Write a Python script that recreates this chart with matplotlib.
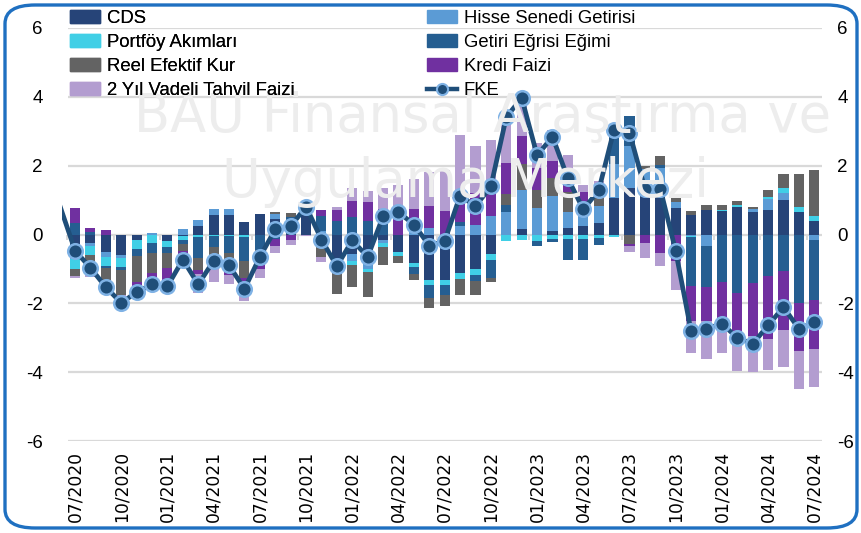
import numpy as np
import matplotlib
matplotlib.use("Agg")
import matplotlib.pyplot as plt
from matplotlib.patches import Patch, FancyBboxPatch
from matplotlib.lines import Line2D

plt.rcParams["axes.unicode_minus"] = False
font_txt = "Liberation Sans"

# 07/2020 ... 07/2024, monthly
tick_labels = ["07/2020", "10/2020", "01/2021", "04/2021", "07/2021", "10/2021",
               "01/2022", "04/2022", "07/2022", "10/2022", "01/2023", "04/2023",
               "07/2023", "10/2023", "01/2024", "04/2024", "07/2024"]

cds = [-0.3, -0.24, -0.5, -0.61, -0.15, 0, -0.2, -0.05, 0.24, 0.57, 0.58, 0.36, 0.6,
       0.45, 0.2, 0.6, 0, -0.88, -0.58, -0.6, -0.15, -0.5, -0.82, -1.32, -1.31, -1.13,
       -1.0, -0.58, 0, 0.17, 0, 0.1, 0.19, 0.24, 0.32, 1.07, 1.36, 1.2, 1.33, 0.78,
       0.58, 0.7, 0.68, 0.81, 0.65, 0.71, 1.0, 0.65, 0.39]
hisse = [-0.4, -0.1, -0.15, -0.08, 0, 0.05, 0, 0.17, 0.17, 0.18, 0.15, 0, 0, 0.15, 0,
         0.2, 0.1, 0, -0.2, -0.4, -0.1, 0, 0.2, 0.2, 0, 0.24, 0.29, 0.53, 0.66, 1.12,
         0.78, 1.02, 0.46, 0.58, 0.5, 0.97, 1.21, 0.7, 0.61, 0.17, -0.03, -0.34, 0, 0,
         0.08, 0.33, 0.21, 0, -0.17]
portfoy = [-0.3, -0.27, -0.27, -0.25, -0.27, -0.26, -0.17, -0.1, -0.08, -0.05, -0.03,
           -0.07, 0, 0, 0, 0, 0, 0, -0.1, -0.1, -0.1, -0.12, -0.12, -0.15, -0.15, -0.16,
           -0.17, -0.17, -0.19, -0.15, -0.19, -0.13, -0.13, -0.13, -0.1, -0.07, 0, 0, 0,
           0, -0.03, 0, 0.03, 0.05, 0, 0.06, 0.15, 0.16, 0.15]
getiri = [0.34, 0.07, -0.05, -0.08, -0.21, -0.27, -0.17, -0.12, -0.6, -0.3, -0.5, -0.7,
          -0.44, -0.12, 0.3, 0, 0.45, 0.4, 0.5, 0.4, 0.5, 0, -0.2, -0.37, -0.29, 0.12,
          -0.19, -0.51, 0.21, 0, -0.15, -0.1, -0.6, -0.6, -0.2, 1.02, 0.87, 0, 0.07, 0,
          -1.45, -1.18, -1.39, -1.7, -1.41, -1.21, -1.07, -1.99, -1.73]
reel = [-0.22, -0.55, -0.62, -0.75, -0.76, -0.6, -0.44, -0.22, -0.35, -0.27, -0.4, -0.48,
        -0.39, 0.05, 0.13, 0, -0.65, -0.85, -0.65, -0.73, -0.55, -0.2, -0.17, -0.3, -0.32,
        -0.46, -0.39, -0.12, 0.31, 0.75, 0.51, 0.51, 0.58, 0, 0.6, 0, -0.29, 0.1, 0.27,
        0.18, 0.1, 0.17, 0.14, 0.12, 0.08, 0.18, 0.39, 0.94, 1.34]
kredi = [0.44, 0.13, 0.12, 0, -0.12, -0.13, -0.34, -0.13, -0.12, -0.3, -0.25, -0.15, -0.17,
         -0.22, -0.15, 0, 0.17, 0.31, 0.47, 0.53, 0.25, 0.8, 0.55, 0.63, 0.68, 0.56, 0.92,
         0.87, 0.9, 0.83, 0.65, 0.52, 0.27, 0.41, 0, 0, -0.05, -0.24, -0.55, -0.78, -1.0,
         -1.0, -1.33, -1.4, -1.55, -1.82, -1.7, -1.39, -1.44]
tahvil2y = [-0.05, -0.07, 0, -0.05, 0, 0, -0.05, 0, -0.55, -0.45, -0.25, -0.53, -0.26,
            -0.2, -0.15, -0.03, -0.15, 0.08, 0.39, 0.34, 0.6, 0.65, 0.85, 1.0, 1.18, 1.97,
            1.36, 1.36, 1.46, 1.12, 0.73, 0.9, 0.8, 0.22, 0.13, 0, -0.17, -0.44, -0.37,
            -0.83, -0.94, -1.09, -0.71, -0.87, -1.04, -0.9, -1.09, -1.12, -1.09]
# FKE, first value is 06/2020 (only a bit of its segment shows)
fke = [0.85, -0.47, -0.97, -1.53, -1.99, -1.67, -1.45, -1.5, -0.73, -1.45, -0.76, -0.9,
       -1.58, -0.65, 0.15, 0.24, 0.81, -0.15, -0.92, -0.17, -0.65, 0.53, 0.65, 0.29,
       -0.32, -0.19, 1.13, 0.82, 1.4, 3.41, 3.97, 2.3, 2.84, 1.63, 0.73, 1.28, 3.05,
       2.96, 1.33, 1.33, -0.48, -2.81, -2.74, -2.59, -3.0, -3.18, -2.64, -2.11, -2.74,
       -2.55]

series = [
    ("CDS", cds, "#264478"),
    ("Hisse Senedi Getirisi", hisse, "#5B9BD5"),
    ("Portföy Akımları", portfoy, "#40CFE6"),
    ("Getiri Eğrisi Eğimi", getiri, "#255E91"),
    ("Reel Efektif Kur", reel, "#636363"),
    ("Kredi Faizi", kredi, "#7030A0"),
    ("2 Yıl Vadeli Tahvil Faizi", tahvil2y, "#B39DD0"),
]

n = len(cds)
x = np.arange(n)

fig = plt.figure(figsize=(8.62, 5.33), dpi=100)
fig.patch.set_facecolor("white")

# watermark
fig.text(482 / 862, 1 - 117 / 533, "BAU Finansal Araştırma ve", fontsize=38,
         color="#ededed", ha="center", va="center", family="DejaVu Sans", zorder=0)
fig.text(466 / 862, 1 - 182 / 533, "Uygulama Merkezi", fontsize=38, color="#ededed",
         ha="center", va="center", family="DejaVu Sans", zorder=0)

ax = fig.add_axes([62 / 862, 1 - 441 / 533, 760 / 862, 413 / 533])
ax.set_facecolor("none")
ax.set_xlim(-0.85, n - 0.5)
ax.set_ylim(-6, 6)

for y in range(-6, 7, 2):
    ax.hlines(y, -0.45, n - 0.5, color="#d9d9d9", lw=1.6, zorder=1)
for k in range(0, n + 1, 3):
    ax.vlines(k - 0.5, -0.17, 0, color="#d9d9d9", lw=1.4, zorder=1)

pos_base = np.zeros(n)
neg_base = np.zeros(n)
for name, vals, col in series:
    v = np.array(vals, dtype=float)
    bottom = np.where(v >= 0, pos_base, neg_base)
    ax.bar(x, v, bottom=bottom, width=0.65, color=col, zorder=2, linewidth=0)
    pos_base += np.clip(v, 0, None)
    neg_base += np.clip(v, None, 0)

xl = np.arange(-1, n)
ax.plot(xl, fke, color="#1F4E79", lw=3.4, zorder=3, solid_joinstyle="round")
ax.plot(x, fke[1:], ls="none", marker="o", ms=10.5, mfc="#1F4E79", mec="#7FB2E5",
        mew=1.8, zorder=4)

for s in ax.spines.values():
    s.set_visible(False)

ax.set_yticks(range(-6, 7, 2))
ax.tick_params(axis="y", length=0, pad=14, labelsize=13.5)
for lab in ax.get_yticklabels():
    lab.set_family(font_txt)

axr = ax.twinx()
axr.set_ylim(-6, 6)
axr.set_yticks(range(-6, 7, 2))
axr.tick_params(axis="y", length=0, pad=11, labelsize=13.5)
for lab in axr.get_yticklabels():
    lab.set_family(font_txt)
for s in axr.spines.values():
    s.set_visible(False)

ax.set_xticks(range(0, n, 3))
ax.set_xticklabels(tick_labels, rotation=90, fontsize=12.3, family="DejaVu Sans")
ax.tick_params(axis="x", length=0, pad=7)

# legend in two columns
handles = [Patch(color=c, label=nm) for nm, _, c in series]
fke_h = Line2D([], [], color="#1F4E79", lw=3.2, marker="o", ms=8, mfc="#1F4E79",
               mec="#7FB2E5", mew=1.5, label="FKE")
col1 = [handles[0], handles[2], handles[4], handles[6]]
col2 = [handles[1], handles[3], handles[5], fke_h]
kw = dict(frameon=False, prop={"family": font_txt, "size": 13.3}, handlelength=1.65,
          handleheight=0.72, handletextpad=0.35, labelspacing=0.38, borderpad=0,
          borderaxespad=0, loc="upper left")
leg1 = fig.legend(handles=col1, bbox_to_anchor=(70 / 862, 1 - 10 / 533), **kw)
fig.add_artist(leg1)
fig.legend(handles=col2, bbox_to_anchor=(427 / 862, 1 - 10 / 533), **kw)

# rounded blue frame
frame = FancyBboxPatch((5 / 862, 5 / 533), 852 / 862, 523 / 533,
                       boxstyle="round,pad=0,rounding_size=0.035",
                       transform=fig.transFigure, fill=False, ec="#1F70C1", lw=2.4,
                       zorder=10)
fig.patches.append(frame)

fig.savefig("out.png", dpi=100)
